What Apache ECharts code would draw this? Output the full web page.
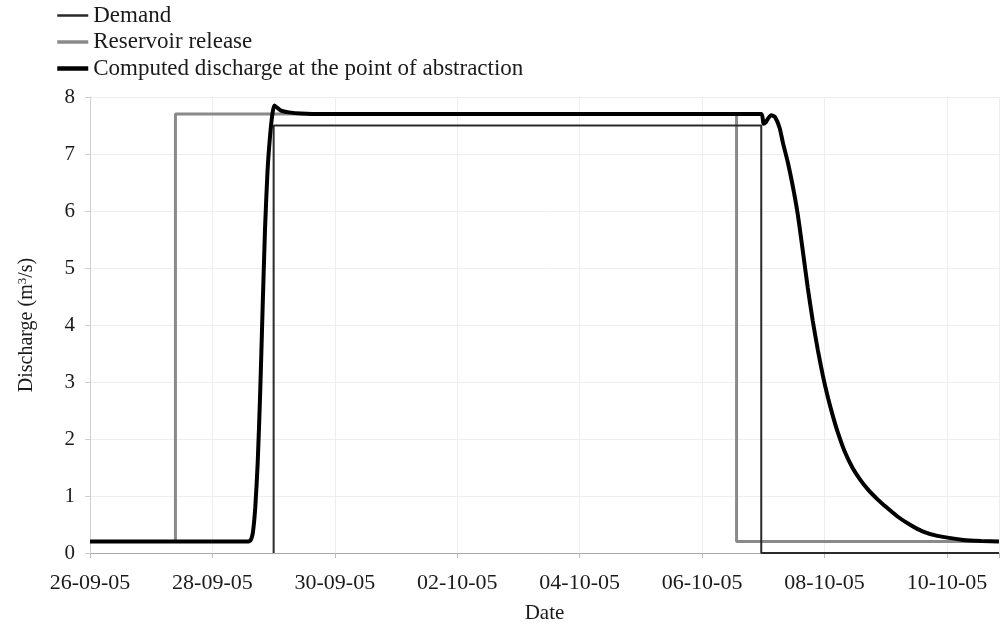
<!DOCTYPE html>
<html>
<head>
<meta charset="utf-8">
<script src="https://cdn.jsdelivr.net/npm/echarts@6/dist/echarts.min.js"></script>
<style>
  html, body { margin: 0; padding: 0; background: #fff; }
  #chart { width: 1002px; height: 634px; }
</style>
</head>
<body>
<div id="chart"></div>
<script>
// Series names (legend order)
const seriesNames = ['Demand', 'Reservoir release', 'Computed discharge at the point of abstraction'];

// Demand at the point of abstraction (m3/s)
const demandData = [
  ['2005-09-29 00:00', 0], ['2005-09-29 00:00', 7.5],
  ['2005-10-06 23:11', 7.5], ['2005-10-06 23:11', 0], ['2005-10-10 20:24', 0]
];

// Release from the reservoir (m3/s)
const releaseData = [
  ['2005-09-26 00:00', 0.2], ['2005-09-27 09:30', 0.2], ['2005-09-27 09:30', 7.7],
  ['2005-10-06 13:30', 7.7], ['2005-10-06 13:30', 0.2], ['2005-10-10 20:24', 0.2]
];

// Computed discharge at the abstraction point (m3/s)
const computedData = [
  ['2005-09-26 00:00', 0.2], ['2005-09-28 13:12', 0.2], ['2005-09-28 14:53', 0.22],
  ['2005-09-28 15:50', 0.35], ['2005-09-28 16:48', 0.8], ['2005-09-28 17:46', 1.6],
  ['2005-09-28 18:43', 2.8], ['2005-09-28 19:41', 4.3], ['2005-09-28 20:38', 5.7],
  ['2005-09-28 21:36', 6.7], ['2005-09-28 22:34', 7.3], ['2005-09-28 23:31', 7.7],
  ['2005-09-29 00:14', 7.85], ['2005-09-29 01:12', 7.82], ['2005-09-29 02:53', 7.76],
  ['2005-09-29 06:00', 7.73], ['2005-09-29 10:48', 7.71], ['2005-09-29 19:12', 7.7],
  ['2005-10-06 23:11', 7.7], ['2005-10-07 00:03', 7.53], ['2005-10-07 01:00', 7.56],
  ['2005-10-07 01:48', 7.62], ['2005-10-07 03:06', 7.68], ['2005-10-07 04:32', 7.65],
  ['2005-10-07 06:22', 7.46], ['2005-10-07 07:40', 7.2], ['2005-10-07 09:37', 6.85],
  ['2005-10-07 11:34', 6.43], ['2005-10-07 13:32', 5.93], ['2005-10-07 15:29', 5.3],
  ['2005-10-07 17:26', 4.65], ['2005-10-07 19:23', 4.07], ['2005-10-07 21:20', 3.57],
  ['2005-10-07 23:18', 3.12], ['2005-10-08 01:15', 2.74], ['2005-10-08 03:13', 2.41],
  ['2005-10-08 05:10', 2.12], ['2005-10-08 07:54', 1.78], ['2005-10-08 11:01', 1.49],
  ['2005-10-08 13:45', 1.3], ['2005-10-08 16:53', 1.12], ['2005-10-08 20:47', 0.94],
  ['2005-10-08 23:31', 0.83], ['2005-10-09 04:36', 0.64], ['2005-10-09 09:41', 0.49],
  ['2005-10-09 14:23', 0.38], ['2005-10-09 20:15', 0.3], ['2005-10-10 06:24', 0.23],
  ['2005-10-10 13:26', 0.21], ['2005-10-10 20:24', 0.2]
];

// Axis range
const xStart = '2005-09-26 00:00';
const xEnd = '2005-10-10 20:24';
const yTicks = [0, 1, 2, 3, 4, 5, 6, 7, 8];

const DAY = 86400000;
function toMs(s) {
  const [d, t] = s.split(' ');
  const [Y, M, D] = d.split('-').map(Number);
  const [h, m] = t.split(':').map(Number);
  return Date.UTC(Y, M - 1, D, h, m);
}
function pts(arr) { return arr.map(p => [toMs(p[0]), p[1]]); }
function pad(n) { return (n < 10 ? '0' : '') + n; }
function fmtDate(v) {
  const d = new Date(v);
  return pad(d.getUTCDate()) + '-' + pad(d.getUTCMonth() + 1) + '-' + pad(d.getUTCFullYear() % 100);
}

const font = '"Liberation Serif", "DejaVu Serif", serif';
const ink = '#1a1a1a';
const lineColors = ['#2a2a2a', '#8a8a8a', '#000000'];
const lineWidths = [2, 3, 4];

const chart = echarts.init(document.getElementById('chart'), null, { renderer: 'canvas' });

chart.setOption({
  animation: false,
  backgroundColor: '#fff',
  textStyle: { fontFamily: font },
  legend: {
    orient: 'vertical',
    left: 55,
    top: 4,
    itemWidth: 31,
    itemHeight: 14,
    itemGap: 3.5,
    padding: 0,
    data: seriesNames.map((n, i) => ({
      name: n,
      lineStyle: { color: lineColors[i], width: lineWidths[i] + 0.5 }
    })),
    itemStyle: { opacity: 0 },
    textStyle: { fontFamily: font, fontSize: 23, lineHeight: 22, color: ink }
  },
  grid: { left: 90, right: 0, top: 97, bottom: 81, containLabel: false },
  xAxis: {
    type: 'value',
    min: toMs(xStart),
    max: toMs(xEnd),
    interval: 2 * DAY,
    name: 'Date',
    nameLocation: 'middle',
    nameGap: 50,
    nameTextStyle: { fontFamily: font, fontSize: 21, color: ink },
    axisLine: { show: true, lineStyle: { color: '#a8a8a8', width: 1 } },
    axisTick: { show: true, length: 5, lineStyle: { color: '#bbbbbb' } },
    axisLabel: {
      fontFamily: font, fontSize: 22, color: ink, margin: 19,
      formatter: v => (v > toMs(xEnd) - DAY / 2 ? '' : fmtDate(v))
    },
    splitLine: { show: true, lineStyle: { color: '#eeeeee', width: 1 } }
  },
  yAxis: {
    type: 'value',
    min: yTicks[0],
    max: yTicks[yTicks.length - 1],
    interval: 1,
    name: 'Discharge (m{sup|3}/s)',
    nameLocation: 'middle',
    nameGap: 52,
    nameTextStyle: {
      fontFamily: font, fontSize: 20, color: ink,
      rich: { sup: { fontFamily: font, fontSize: 13, color: ink, verticalAlign: 'bottom', padding: [0, 0, 9, 0] } }
    },
    axisLine: { show: true, lineStyle: { color: '#d0d0d0', width: 1 } },
    axisTick: { show: true, length: 5, lineStyle: { color: '#d0d0d0' } },
    axisLabel: { fontFamily: font, fontSize: 21, color: ink, margin: 15 },
    splitLine: { show: true, lineStyle: { color: '#eeeeee', width: 1 } }
  },
  series: [
    {
      name: seriesNames[1],
      type: 'line',
      data: pts(releaseData),
      symbol: 'none',
      z: 2,
      lineStyle: { color: lineColors[1], width: lineWidths[1] },
      itemStyle: { color: lineColors[1] }
    },
    {
      name: seriesNames[0],
      type: 'line',
      data: pts(demandData),
      symbol: 'none',
      z: 3,
      lineStyle: { color: lineColors[0], width: lineWidths[0] },
      itemStyle: { color: lineColors[0] }
    },
    {
      name: seriesNames[2],
      type: 'line',
      data: pts(computedData),
      symbol: 'none',
      smooth: 0.2,
      z: 4,
      lineStyle: { color: lineColors[2], width: lineWidths[2] },
      itemStyle: { color: lineColors[2] }
    }
  ]
});
</script>
</body>
</html>
